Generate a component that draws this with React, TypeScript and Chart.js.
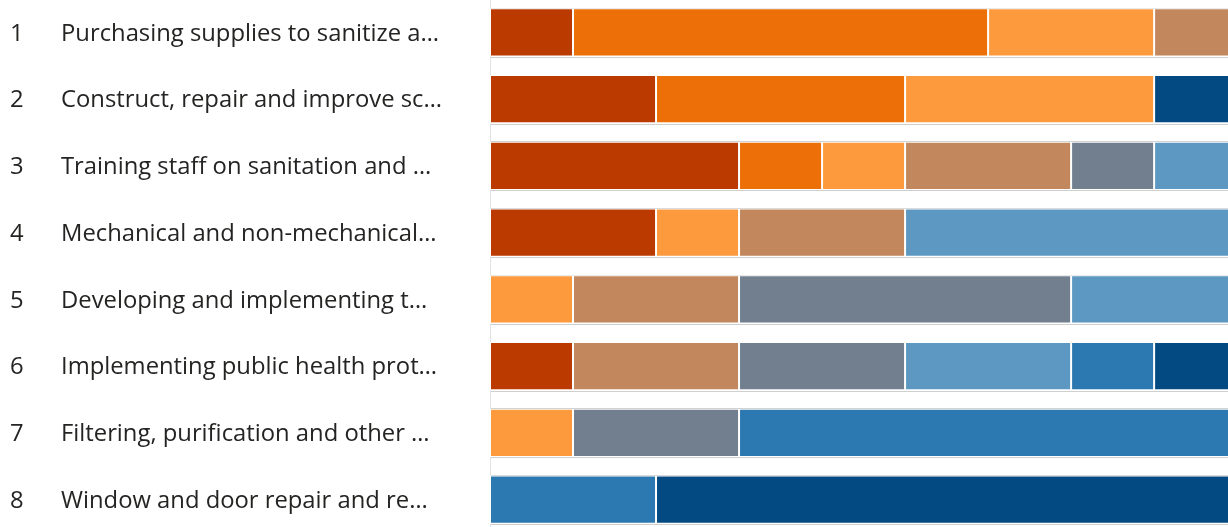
import React, { useEffect, useRef } from "react";
import { Chart, registerables } from "chart.js";

Chart.register(...registerables);

const categories = [
  "Purchasing supplies to sanitize a…",
  "Construct, repair and improve sc…",
  "Training staff on sanitation and …",
  "Mechanical and non-mechanical…",
  "Developing and implementing t…",
  "Implementing public health prot…",
  "Filtering, purification and other …",
  "Window and door repair and re…",
];
const rowNumbers = ["1", "2", "3", "4", "5", "6", "7", "8"];

const seriesNames = ["S1", "S2", "S3", "S4", "S5", "S6", "S7", "S8"];
const seriesColors = [
  "#bb3a00",
  "#ec7007",
  "#fd9a3d",
  "#c3875d",
  "#717f8f",
  "#5c98c1",
  "#2c78b0",
  "#034a83",
];
// values per series, one per category (row)
const s1 = [1, 2, 3, 2, 0, 1, 0, 0];
const s2 = [5, 3, 1, 0, 0, 0, 0, 0];
const s3 = [2, 3, 1, 1, 1, 0, 1, 0];
const s4 = [3, 0, 2, 2, 2, 2, 0, 0];
const s5 = [0, 0, 1, 0, 4, 2, 2, 0];
const s6 = [0, 0, 3, 5, 3, 2, 0, 0];
const s7 = [0, 0, 0, 0, 0, 1, 7, 2];
const s8 = [0, 2, 0, 0, 0, 2, 0, 8];
const seriesValues = [s1, s2, s3, s4, s5, s6, s7, s8];

const xMin = 0;
const xMax = 8.89;

const FONT = '23.8px "Open Sans"';

export default function App() {
  const ref = useRef<HTMLCanvasElement | null>(null);

  useEffect(() => {
    let chart: Chart | null = null;
    let cancelled = false;

    const rowPlugin = {
      id: "rowDecor",
      beforeDatasetsDraw(c: any) {
        const { ctx, chartArea } = c;
        const y = c.scales.y;
        ctx.save();
        ctx.strokeStyle = "#cfcfcf";
        ctx.lineWidth = 1;
        categories.forEach((_, i) => {
          const yc = y.getPixelForValue(i);
          [yc - 24.5, yc + 24.5].forEach((yy) => {
            const py = Math.round(yy) + 0.5;
            ctx.beginPath();
            ctx.moveTo(chartArea.left, py);
            ctx.lineTo(chartArea.right, py);
            ctx.stroke();
          });
        });
        ctx.strokeStyle = "#e2e2e2";
        ctx.beginPath();
        ctx.moveTo(chartArea.left + 0.5, 0);
        ctx.lineTo(chartArea.left + 0.5, c.height);
        ctx.stroke();
        ctx.restore();
      },
      afterDraw(c: any) {
        const { ctx } = c;
        const y = c.scales.y;
        ctx.save();
        ctx.font = FONT;
        ctx.fillStyle = "#252423";
        ctx.textBaseline = "middle";
        ctx.textAlign = "left";
        categories.forEach((label, i) => {
          const yc = y.getPixelForValue(i) + 1.5;
          ctx.fillText(rowNumbers[i], 10, yc);
          ctx.fillText(label, 61, yc);
        });
        ctx.restore();
      },
    };

    const build = () => {
      if (cancelled || !ref.current) return;
      chart = new Chart(ref.current, {
        type: "bar",
        data: {
          labels: categories,
          datasets: seriesNames.map((name, i) => ({
            label: name,
            data: seriesValues[i],
            backgroundColor: seriesColors[i],
            borderColor: "#ffffff",
            borderWidth: 1,
            borderSkipped: false,
            barPercentage: 0.72,
            categoryPercentage: 1,
          })),
        },
        options: {
          indexAxis: "y",
          responsive: false,
          animation: false,
          layout: { padding: { left: 490, right: 0, top: 0, bottom: 0 } },
          plugins: {
            legend: { display: false },
            tooltip: { enabled: false },
          },
          scales: {
            x: { stacked: true, min: xMin, max: xMax, display: false },
            y: { stacked: true, display: false },
          },
        },
        plugins: [rowPlugin],
      });
    };

    (document as any).fonts
      .load(FONT)
      .then(build, build);

    return () => {
      cancelled = true;
      if (chart) chart.destroy();
    };
  }, []);

  return (
    <div
      style={{
        position: "fixed",
        left: 0,
        top: 0,
        width: 1228,
        height: 527,
        overflow: "hidden",
        background: "#ffffff",
      }}
    >
      <canvas
        ref={ref}
        width={1228}
        height={534}
        style={{ position: "absolute", left: 0, top: -1, width: 1228, height: 534 }}
      />
    </div>
  );
}
